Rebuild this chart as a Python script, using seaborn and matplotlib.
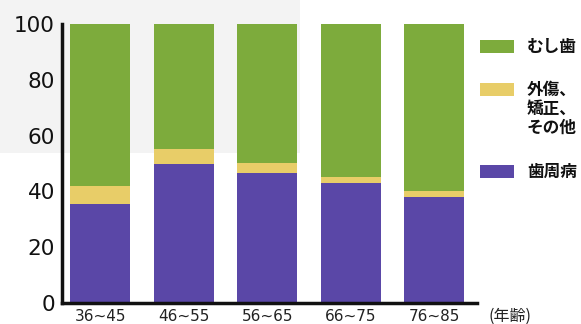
import matplotlib
matplotlib.use("Agg")
import matplotlib.pyplot as plt
import seaborn as sns
import numpy as np
import pandas as pd
from matplotlib.patches import Rectangle

# ---- data ----
age_groups = ["36~45", "46~55", "56~65", "66~75", "76~85"]
periodontal = [35.5, 49.8, 46.7, 43.1, 37.9]      # 歯周病
other = [6.4, 5.3, 3.4, 1.9, 2.1]                 # 外傷、矯正、その他
caries = [100 - p - o for p, o in zip(periodontal, other)]  # むし歯 (remainder to 100%)
series_labels = ["むし歯", "外傷、\n矯正、\nその他", "歯周病"]
y_ticks = [0, 20, 40, 60, 80, 100]
x_unit = "(年齢)"

colors = {"caries": "#7dab3c", "other": "#e8cd68", "perio": "#5a47a7"}

sns.set_theme(style="white")
plt.rcParams["font.family"] = ["DejaVu Sans", "Noto Sans CJK JP"]

W, H = 581, 324
fig = plt.figure(figsize=(W / 100, H / 100), dpi=100)
fig.patch.set_facecolor("white")

# faint scan tint in the upper-left
fig.add_artist(Rectangle((0, 1 - 153 / H), 300 / W, 153 / H, transform=fig.transFigure,
                         facecolor="#f3f3f3", edgecolor="none", zorder=0))

ax = fig.add_axes([62 / W, (H - 303) / H, (477 - 62) / W, (303 - 24) / H])
ax.patch.set_alpha(0)

df = pd.DataFrame({"age": age_groups, "perio": periodontal, "other": other, "caries": caries})
df["perio_other"] = df["perio"] + df["other"]
df["total"] = df["perio_other"] + df["caries"]

bw = 0.72
sns.barplot(data=df, x="age", y="total", color=colors["caries"], width=bw, ax=ax,
            saturation=1, linewidth=0)
sns.barplot(data=df, x="age", y="perio_other", color=colors["other"], width=bw, ax=ax,
            saturation=1, linewidth=0)
sns.barplot(data=df, x="age", y="perio", color=colors["perio"], width=bw, ax=ax,
            saturation=1, linewidth=0)

ax.set_xlim(-0.46, 4.51)
ax.set_ylim(0, 100)
ax.set_yticks(y_ticks)
ax.set_yticklabels([str(v) for v in y_ticks], fontsize=15.5, color="#222222")
ax.set_xlabel("")
ax.set_ylabel("")
ax.tick_params(axis="x", length=0, labelsize=11, pad=4, colors="#222222")
ax.tick_params(axis="y", length=4, width=1.5, direction="out", pad=1, colors="#111111")
ax.set_xticks([0.5, 1.5, 2.5, 3.5, 4.5], minor=True)
ax.tick_params(axis="x", which="minor", length=6, width=1.5, direction="in", colors="#111111")
for s in ["top", "right"]:
    ax.spines[s].set_visible(False)
for s in ["left", "bottom"]:
    ax.spines[s].set_linewidth(2.5)
    ax.spines[s].set_color("#111111")
ax.grid(False)

fig.text(488 / W, 1 - 316 / H, x_unit, fontsize=11.5, va="center", ha="left",
         family=["Noto Sans CJK JP", "DejaVu Sans"], color="#222222")

# legend (manual)
leg_colors = [colors["caries"], colors["other"], colors["perio"]]
patch_tops = [40, 83, 165]
text_y = [47, 90, 172]
for lab, c, pt, ty in zip(series_labels, leg_colors, patch_tops, text_y):
    fig.add_artist(Rectangle((480 / W, 1 - (pt + 13) / H), 34 / W, 13 / H,
                             transform=fig.transFigure, facecolor=c, edgecolor="none"))
    fig.text(527 / W, 1 - (ty - 9) / H, lab, fontsize=12, va="top", ha="left",
             linespacing=1.07, weight="bold",
             family=["Noto Sans CJK JP", "DejaVu Sans"], color="#111111")

fig.savefig("out.png", dpi=100)
